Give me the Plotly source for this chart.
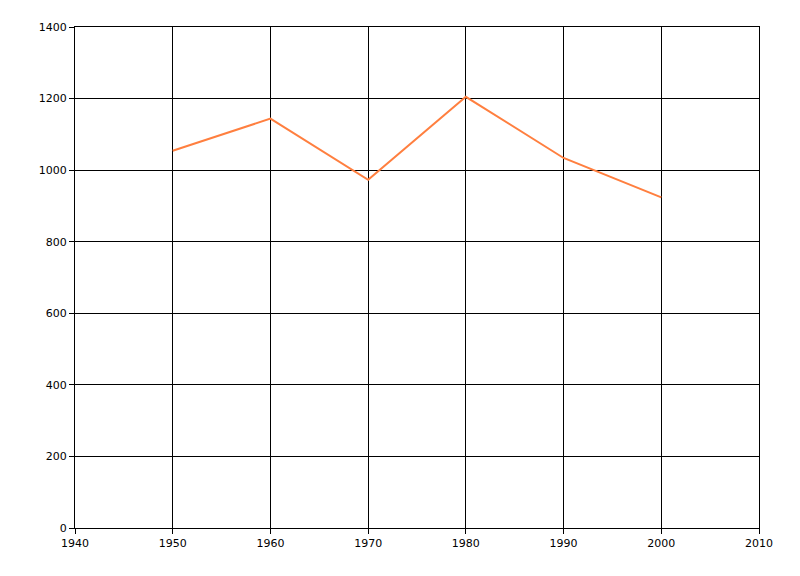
import plotly.graph_objects as go

years = [1950, 1960, 1970, 1980, 1990, 2000]
values = [1054, 1144, 973, 1205, 1034, 924]
x_ticks = [1940, 1950, 1960, 1970, 1980, 1990, 2000, 2010]
y_ticks = [0, 200, 400, 600, 800, 1000, 1200, 1400]

fig = go.Figure()
fig.add_trace(go.Scatter(x=years, y=values, mode="lines",
                         line=dict(color="#FF7F3F", width=2), showlegend=False))

axis_common = dict(showgrid=True, gridcolor="black", gridwidth=1,
                   showline=True, linecolor="black", linewidth=1, mirror=True,
                   ticks="outside", ticklen=5, tickcolor="black", zeroline=False,
                   tickfont=dict(family="DejaVu Sans", size=11, color="black"))

fig.update_layout(
    width=800, height=576,
    margin=dict(l=67, r=49, t=19, b=56),
    paper_bgcolor="white", plot_bgcolor="white",
    xaxis=dict(range=[1940, 2010], tickvals=x_ticks, ticktext=[str(v) for v in x_ticks], **axis_common),
    yaxis=dict(range=[0, 1400], tickvals=y_ticks, ticktext=[str(v) for v in y_ticks], **axis_common),
)
fig.write_html("out.html")
